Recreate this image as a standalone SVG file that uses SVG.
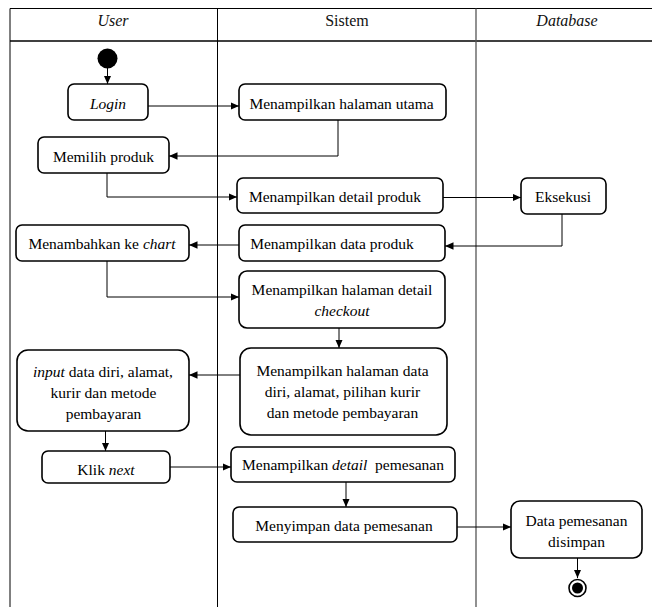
<svg xmlns="http://www.w3.org/2000/svg" width="652" height="607" viewBox="0 0 652 607">
<style>
.frame{stroke:#000;stroke-width:1;fill:none}
.div2{stroke:#555;stroke-width:1.3;fill:none}
.node rect{fill:#fff;stroke:#000;stroke-width:1.6}
text{font-family:"Liberation Serif","Times New Roman",serif;font-size:15.5px;fill:#000;text-anchor:middle}
.h{font-size:16px;fill:#111}
.i{font-style:italic}
.c{fill:none;stroke:#000;stroke-width:1}
</style>
<defs>
<marker id="arr" markerUnits="userSpaceOnUse" markerWidth="9" markerHeight="8" refX="8.5" refY="3.75" orient="auto">
<path d="M0,0 L8.5,3.75 L0,7.5 z" fill="#000"/>
</marker>
</defs>
<rect width="652" height="607" fill="#fff"/>
<g id="lanes">
<path class="frame" d="M10,607 V8.5 H652"/>
<path class="frame" d="M10,41 H652" style="stroke-width:1.4"/>
<path class="frame" d="M217.5,8.5 V607"/>
<path class="div2" d="M476,8.5 V607"/>
<text class="h i" x="113" y="26">User</text>
<text class="h" x="347" y="26">Sistem</text>
<text class="h i" x="567" y="26">Database</text>
</g>
<g id="connectors">
<path class="c" d="M107.5,68 V84" marker-end="url(#arr)"/>
<path class="c" d="M148,106 H239" marker-end="url(#arr)"/>
<path class="c" d="M338,120 V156 H169" marker-end="url(#arr)"/>
<path class="c" d="M107,173 V197 H237" marker-end="url(#arr)"/>
<path class="c" d="M443,197.5 H521" marker-end="url(#arr)"/>
<path class="c" d="M562,214 V246 H445" marker-end="url(#arr)"/>
<path class="c" d="M239,245 H189" marker-end="url(#arr)"/>
<path class="c" d="M107,261 V297 H239" marker-end="url(#arr)"/>
<path class="c" d="M339,328 V348" marker-end="url(#arr)"/>
<path class="c" d="M240,375 H189" marker-end="url(#arr)"/>
<path class="c" d="M105.5,431 V451" marker-end="url(#arr)"/>
<path class="c" d="M170,467 H231" marker-end="url(#arr)"/>
<path class="c" d="M346,482 V507" marker-end="url(#arr)"/>
<path class="c" d="M457,527 H511" marker-end="url(#arr)"/>
<path class="c" d="M577.5,558 V578" marker-end="url(#arr)"/>
</g>
<g id="start"><circle cx="107.5" cy="58.5" r="10" fill="#000"/></g>
<g id="login" class="node"><rect x="68" y="84" width="80" height="36" rx="6"/><text class="i" x="108" y="109">Login</text></g>
<g id="halaman-utama" class="node"><rect x="239" y="84" width="207" height="36" rx="6"/><text x="341.5" y="109">Menampilkan halaman utama</text></g>
<g id="memilih-produk" class="node"><rect x="38" y="137" width="131" height="36" rx="6"/><text x="103.5" y="162">Memilih produk</text></g>
<g id="detail-produk" class="node"><rect x="237" y="178" width="206" height="35" rx="6"/><text x="335" y="202">Menampilkan detail produk</text></g>
<g id="eksekusi" class="node"><rect x="521" y="178" width="85" height="36" rx="6"/><text x="563" y="202">Eksekusi</text></g>
<g id="data-produk" class="node"><rect x="239" y="225" width="206" height="36" rx="6"/><text x="332" y="249">Menampilkan data produk</text></g>
<g id="chart" class="node"><rect x="16" y="225" width="173" height="36" rx="6"/><text x="102" y="249">Menambahkan ke <tspan class="i">chart</tspan></text></g>
<g id="checkout" class="node"><rect x="239" y="271" width="206" height="57" rx="8"/><text x="342" y="295">Menampilkan halaman detail</text><text class="i" x="342" y="316">checkout</text></g>
<g id="halaman-data" class="node"><rect x="240" y="348" width="207" height="87" rx="11"/><text x="342.5" y="376">Menampilkan halaman data</text><text x="342.5" y="397">diri, alamat, pilihan kurir</text><text x="342.5" y="418">dan metode pembayaran</text></g>
<g id="input" class="node"><rect x="17" y="350" width="172" height="81" rx="11"/><text x="103" y="377"><tspan class="i">input</tspan> data diri, alamat,</text><text x="103.5" y="398">kurir dan metode</text><text x="103.5" y="419">pembayaran</text></g>
<g id="klik-next" class="node"><rect x="42" y="451" width="128" height="32" rx="6"/><text x="106" y="475">Klik <tspan class="i">next</tspan></text></g>
<g id="detail-pemesanan" class="node"><rect x="231" y="447" width="224" height="35" rx="6"/><text x="343" y="470" xml:space="preserve">Menampilkan <tspan class="i">detail</tspan>  pemesanan</text></g>
<g id="menyimpan" class="node"><rect x="233" y="507" width="224" height="35" rx="6"/><text x="344" y="531">Menyimpan data pemesanan</text></g>
<g id="disimpan" class="node"><rect x="511" y="501" width="131" height="57" rx="9"/><text x="576.5" y="526">Data pemesanan</text><text x="576.5" y="547">disimpan</text></g>
<g id="end"><circle cx="577.5" cy="588" r="8.5" fill="#fff" stroke="#000" stroke-width="1.6"/><circle cx="577.5" cy="588" r="5.5" fill="#000"/></g>
</svg>
